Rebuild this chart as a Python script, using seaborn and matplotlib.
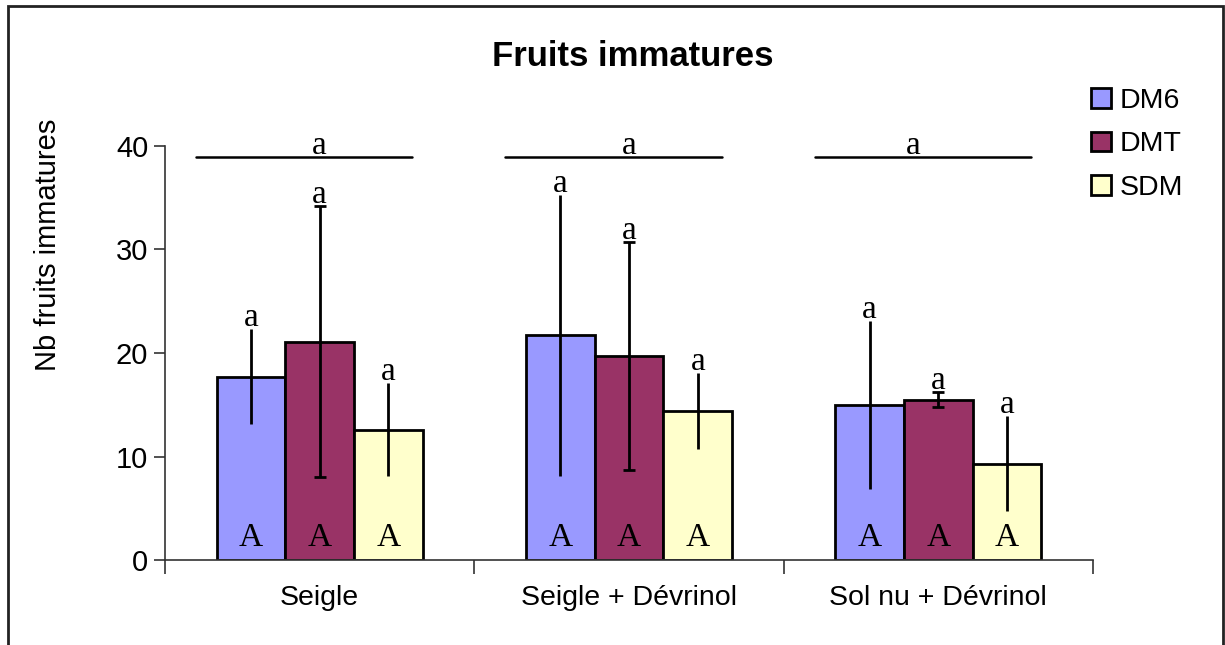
import matplotlib
matplotlib.use('Agg')
import numpy as np
import pandas as pd
import seaborn as sns
from matplotlib import pyplot as plt
from matplotlib.patches import Patch, Rectangle

# données
categories = ['Seigle', 'Seigle + Dévrinol', 'Sol nu + Dévrinol']
traitements = ['DM6', 'DMT', 'SDM']
dm6 = [17.7, 21.7, 15.0]
dmt = [21.1, 19.7, 15.5]
sdm = [12.6, 14.4, 9.3]
dm6_err = [4.6, 13.6, 8.1]
dmt_err = [13.1, 11.0, 0.7]
sdm_err = [4.5, 3.7, 4.6]
lettres_barres = [['a', 'a', 'a'], ['a', 'a', 'a'], ['a', 'a', 'a']]
lettres_bas = [['A', 'A', 'A'], ['A', 'A', 'A'], ['A', 'A', 'A']]
lettres_groupe = ['a', 'a', 'a']

couleurs = ['#9999FF', '#993366', '#FFFFCC']

df = pd.DataFrame({
    'modalite': categories * 3,
    'traitement': np.repeat(traitements, 3),
    'nb': dm6 + dmt + sdm,
})
errs = [dm6_err, dmt_err, sdm_err]

sns.set_style('white')
plt.rcParams['font.family'] = ['Liberation Sans', 'DejaVu Sans']
plt.rcParams['text.color'] = 'black'
plt.rcParams['xtick.labelcolor'] = 'black'
plt.rcParams['ytick.labelcolor'] = 'black'

fig = plt.figure(figsize=(12.25, 6.45), dpi=100)
ax = fig.add_axes([165/1225, 85/645, 928/1225, 414/645])

sns.barplot(data=df, x='modalite', y='nb', hue='traitement', order=categories,
            hue_order=traitements, palette=couleurs, width=0.667, gap=0,
            edgecolor='black', linewidth=2, errorbar=None, legend=False,
            saturation=1, ax=ax)

serif = ['Liberation Serif', 'DejaVu Serif']
caps = [0, 4, 0]
bar_conts = list(ax.containers)
for i, cont in enumerate(bar_conts):
    for j, bar in enumerate(cont):
        x = bar.get_x() + bar.get_width() / 2
        h = bar.get_height()
        ax.errorbar(x, h, yerr=errs[i][j], color='black', lw=2,
                    capsize=caps[i], capthick=2, zorder=5)
        ax.text(x, h + errs[i][j] + 0.3, lettres_barres[i][j], family=serif,
                fontsize=24, ha='center', va='baseline', zorder=6)
        ax.text(x, 1.4, lettres_bas[i][j], family=serif, fontsize=24,
                ha='center', va='baseline', zorder=6)

decal = [0, 0, -0.08]
for k in range(3):
    ax.plot([k - 0.40, k + 0.30], [38.9, 38.9], color='black', lw=1.8,
            clip_on=False)
    ax.text(k + decal[k], 39.2, lettres_groupe[k], family=serif, fontsize=24,
            ha='center', va='baseline', clip_on=False)

ax.set_xlim(-0.5, 2.5)
ax.set_ylim(0, 40)
ax.set_yticks([0, 10, 20, 30, 40])
ax.set_xticks([0, 1, 2], categories)
ax.set_xticks([-0.5, 0.5, 1.5, 2.5], minor=True)
ax.tick_params(axis='x', which='major', length=0, pad=18, labelsize=20.5)
ax.tick_params(axis='x', which='minor', length=10, width=1.2, color='#333333',
               direction='out', bottom=True)
ax.tick_params(axis='y', length=8, width=1.2, color='#333333', direction='out',
               left=True, labelsize=21, pad=4)
ax.set_xlabel('')
ax.set_ylabel('')
for s in ['top', 'right']:
    ax.spines[s].set_visible(False)
for s in ['left', 'bottom']:
    ax.spines[s].set_color('#333333')
    ax.spines[s].set_linewidth(1.2)

fig.text(48/1225, 1 - 245/645, 'Nb fruits immatures', rotation=90,
         fontsize=21, ha='center', va='center')
fig.text(633/1225, 1 - 56/645, 'Fruits immatures', fontsize=25,
         fontweight='bold', ha='center', va='center')

handles = [Patch(facecolor=c, edgecolor='black', linewidth=2) for c in couleurs]
fig.legend(handles, traitements, loc='upper left',
           bbox_to_anchor=(1080/1225, 1 - 77/645), frameon=False, fontsize=20.5,
           handlelength=0.7, handleheight=0.7, handletextpad=0.3,
           labelspacing=0.6, borderaxespad=0)

fig.add_artist(Rectangle((8/1225, -0.05), (1223 - 8)/1225, 1.05 - 6/645,
                         transform=fig.transFigure, fill=False,
                         edgecolor='#222222', linewidth=2))

fig.savefig('out.png', dpi=100)
